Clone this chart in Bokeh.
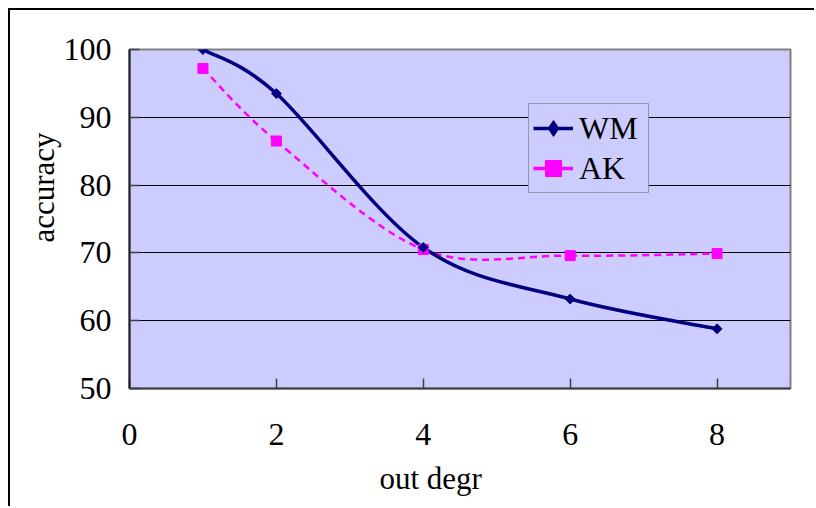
from bokeh.plotting import figure
from bokeh.models import (ColumnDataSource, Range1d, FixedTicker, Title, Legend, LegendItem)
from bokeh.embed import file_html
from bokeh.resources import INLINE
import math

# ---- data ----
x_vals = [1, 2, 4, 6, 8]
wm_vals = [100.0, 93.5, 70.8, 63.2, 58.8]
ak_vals = [97.2, 86.5, 70.5, 69.6, 69.9]
x_ticks = [0, 2, 4, 6, 8]
y_ticks = [50, 60, 70, 80, 90, 100]
series_names = ["WM", "AK"]
x_title = "out degr"
y_title = "accuracy"

FONT = "Liberation Serif"
NAVY = "#000080"
MAGENTA = "#FF00FF"


def smooth_segments(xs, ys):
    """Cubic Bezier segments (Catmull-Rom style, like spreadsheet smoothing)."""
    n = len(xs)
    d = dict(x0=[], y0=[], x1=[], y1=[], cx0=[], cy0=[], cx1=[], cy1=[])
    for i in range(n - 1):
        a = i - 1 if i > 0 else i
        b = i + 2 if i + 2 < n else i + 1
        d["x0"].append(xs[i]); d["y0"].append(ys[i])
        d["x1"].append(xs[i + 1]); d["y1"].append(ys[i + 1])
        d["cx0"].append(xs[i] + (xs[i + 1] - xs[a]) / 6.0)
        d["cy0"].append(ys[i] + (ys[i + 1] - ys[a]) / 6.0)
        d["cx1"].append(xs[i + 1] - (xs[b] - xs[i]) / 6.0)
        d["cy1"].append(ys[i + 1] - (ys[b] - ys[i]) / 6.0)
    return ColumnDataSource(d)


p = figure(width=806, height=498, output_backend="svg", toolbar_location=None,
           x_range=Range1d(0, 9), y_range=Range1d(50, 100),
           min_border_left=119, min_border_right=26, min_border_top=39,
           min_border_bottom=120, margin=(8, 0, 0, 8),
           styles={"border-top": "2px solid #000000", "border-left": "2px solid #000000"})

p.background_fill_color = "#CCCCFF"
p.border_fill_color = "#FFFFFF"
p.outline_line_color = "#808080"
p.outline_line_width = 2

# grid
p.xgrid.grid_line_color = None
p.ygrid.grid_line_color = "#000000"
p.ygrid.grid_line_width = 1
p.ygrid.ticker = FixedTicker(ticks=y_ticks)

# axes
p.xaxis.ticker = FixedTicker(ticks=x_ticks)
p.yaxis.ticker = FixedTicker(ticks=y_ticks)
p.xaxis.major_label_text_font = FONT
p.yaxis.major_label_text_font = FONT
p.xaxis.major_label_text_font_size = "32px"
p.yaxis.major_label_text_font_size = "32px"
p.xaxis.major_label_text_color = "#000000"
p.yaxis.major_label_text_color = "#000000"
for ax in (p.xaxis[0], p.yaxis[0]):
    ax.major_tick_in = 10
    ax.major_tick_out = 0
    ax.minor_tick_in = 0
    ax.minor_tick_out = 0
    ax.major_tick_line_color = "#404040"
    ax.major_tick_line_width = 1.5
    ax.axis_line_width = 2
p.xaxis.axis_line_color = "#404040"
p.yaxis.axis_line_color = "#202020"
p.xaxis.major_label_standoff = 35
p.yaxis.major_label_standoff = 18

# curves
wm_src = smooth_segments(x_vals, wm_vals)
ak_src = smooth_segments(x_vals, ak_vals)
p.bezier(x0="x0", y0="y0", x1="x1", y1="y1", cx0="cx0", cy0="cy0", cx1="cx1", cy1="cy1",
         source=ak_src, line_color=MAGENTA, line_width=2.5, line_dash="7 5")
p.bezier(x0="x0", y0="y0", x1="x1", y1="y1", cx0="cx0", cy0="cy0", cx1="cx1", cy1="cy1",
         source=wm_src, line_color=NAVY, line_width=3.5)
ak_pts = p.scatter(x_vals, ak_vals, marker="square", size=10,
                   fill_color=MAGENTA, line_color=MAGENTA)
wm_pts = p.scatter(x_vals, wm_vals, marker="square", angle=math.pi / 4, size=7,
                   fill_color=NAVY, line_color=NAVY)

# legend proxies (no visible data; they only draw the legend swatches)
wm_leg_line = p.line([math.nan], [math.nan], line_color=NAVY, line_width=3.5)
wm_leg_mark = p.scatter([math.nan], [math.nan], marker="diamond", size=12,
                        fill_color=NAVY, line_color=NAVY)
ak_leg_line = p.line([math.nan], [math.nan], line_color=MAGENTA, line_width=3.5)

legend = Legend(items=[
    LegendItem(label=series_names[0], renderers=[wm_leg_line, wm_leg_mark]),
    LegendItem(label=series_names[1], renderers=[ak_leg_line, ak_pts]),
], location=(399, 195))
legend.label_text_font = FONT
legend.label_text_font_size = "32px"
legend.label_text_color = "#000000"
legend.background_fill_color = "#CCCCFF"
legend.background_fill_alpha = 1.0
legend.border_line_color = "#606060"
legend.border_line_width = 1.5
legend.glyph_width = 40
legend.glyph_height = 40
legend.label_height = 40
legend.label_width = 65
legend.label_standoff = 6
legend.padding = 4
legend.spacing = 0
legend.margin = 0
p.add_layout(legend, "center")

# axis titles
yt = Title(text=y_title, align="left", offset=146, standoff=0,
           text_font=FONT, text_font_size="31px", text_font_style="normal",
           text_color="#000000")
p.add_layout(yt, "left")
xt = Title(text=x_title, align="left", offset=250, standoff=22,
           text_font=FONT, text_font_size="31px", text_font_style="normal",
           text_color="#000000")
p.add_layout(xt, "below")

open("out.html", "w").write(file_html(p, INLINE))
